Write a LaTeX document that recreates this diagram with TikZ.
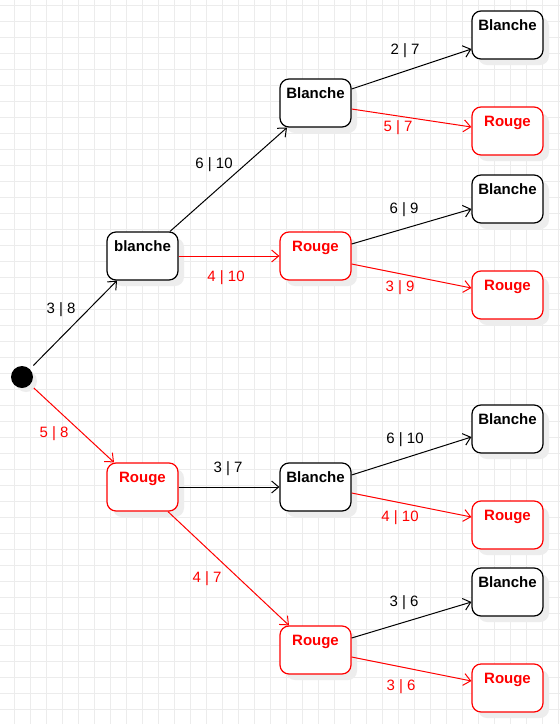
\documentclass[tikz,border=0pt]{standalone}
\usepackage{fontspec}
\setmainfont{Liberation Sans}
\usetikzlibrary{arrows.meta,calc}
\definecolor{gridc}{HTML}{ECECEC}
\definecolor{rd}{HTML}{FF0000}
\tikzset{
  stbox/.style={draw=#1, line width=1.2pt, rounded corners=9pt, fill=white,
    minimum width=71pt, minimum height=48pt, inner sep=0pt},
  shad/.style={fill=black!7, rounded corners=9pt, draw=none},
  conn/.style={line width=1pt, -{Straight Barb[length=7pt,width=12pt,line width=1pt]}},
  elbl/.style={font=\fontsize{15}{17}\selectfont, inner sep=0pt, yshift=-2pt},
  ttl/.style={font=\bfseries\fontsize{15}{17}\selectfont, anchor=base, inner sep=0pt},
}
\newcommand{\stnode}[5]{% name, cx, cy, color, text
  \fill[shad] (#2-35.5+6,#3-24+6) rectangle (#2+35.5+6,#3+24+6);
  \node[stbox=#4] (#1) at (#2,#3) {};
  \node[ttl, text=#4] (#1t) at (#2,#3-5) {#5};
}
\begin{document}
\begin{tikzpicture}[x=1pt,y=-1pt]
\useasboundingbox (0,0) rectangle (560,724);
\fill[white] (0,0) rectangle (560,724);
% grid
\foreach \gx in {14,30,...,560} \draw[gridc, line width=0.8pt] (\gx,0) -- (\gx,724);
\foreach \gy in {5,21,...,724} \draw[gridc, line width=0.8pt] (0,\gy) -- (560,\gy);
% initial state
\fill[black!7] (26,381) circle (11);
\node[circle, fill=black, minimum size=22pt, inner sep=0pt] (c) at (22,377) {};
% states
\stnode{b0}{142.5}{256}{black}{blanche}
\stnode{r0}{142.5}{487}{rd}{Rouge}
\stnode{b1}{315.5}{103}{black}{Blanche}
\stnode{r1}{315.5}{256}{rd}{Rouge}
\stnode{b2}{315.5}{487}{black}{Blanche}
\stnode{r2}{315.5}{650}{rd}{Rouge}
\stnode{bb1}{507.5}{35}{black}{Blanche}
\stnode{br1}{507.5}{131}{rd}{Rouge}
\stnode{rb1}{507.5}{199}{black}{Blanche}
\stnode{rr1}{507.5}{295}{rd}{Rouge}
\stnode{bb2}{507.5}{429}{black}{Blanche}
\stnode{br2}{507.5}{525}{rd}{Rouge}
\stnode{rb2}{507.5}{592}{black}{Blanche}
\stnode{rr2}{507.5}{688}{rd}{Rouge}
% connectors
\draw[conn, shorten <=5pt] (c) -- ($(b0.south)+(-25.5,0)$);
\draw[conn, rd, shorten <=5pt] (c) -- ($(r0.north)+(-28.5,0)$);
\draw[conn] ($(b0.north)+(27.5,0)$) -- ($(b1.south)+(-28.5,0)$);
\draw[conn, rd] (b0.east) -- (r1.west);
\draw[conn] ($(b1.east)+(0,-14)$) -- ($(bb1.west)+(0,14)$);
\draw[conn, rd] ($(b1.east)+(0,6)$) -- ($(br1.west)+(0,-4)$);
\draw[conn] ($(r1.east)+(0,-12)$) -- ($(rb1.west)+(0,10)$);
\draw[conn, rd] ($(r1.east)+(0,8)$) -- ($(rr1.west)+(0,-7)$);
\draw[conn] (r0.east) -- (b2.west);
\draw[conn, rd] ($(r0.south)+(25.5,0)$) -- ($(r2.north)+(-26.5,0)$);
\draw[conn] ($(b2.east)+(0,-12)$) -- ($(bb2.west)+(0,8)$);
\draw[conn, rd] ($(b2.east)+(0,6)$) -- ($(br2.west)+(0,-8)$);
\draw[conn] ($(r2.east)+(0,-12)$) -- ($(rb2.west)+(0,10)$);
\draw[conn, rd] ($(r2.east)+(0,7)$) -- ($(rr2.west)+(0,-7)$);
% labels
\node[elbl] (l1) at (61,308) {3 | 8};
\node[elbl, text=rd] (l2) at (54,432) {5 | 8};
\node[elbl] (l3) at (214,163) {6 | 10};
\node[elbl, text=rd] (l4) at (226,276) {4 | 10};
\node[elbl] (l5) at (405,49) {2 | 7};
\node[elbl, text=rd] (l6) at (398,126) {5 | 7};
\node[elbl] (l7) at (404,208) {6 | 9};
\node[elbl, text=rd] (l8) at (400,286) {3 | 9};
\node[elbl] (l9) at (228,467) {3 | 7};
\node[elbl, text=rd] (l10) at (207,577) {4 | 7};
\node[elbl] (l11) at (405,438) {6 | 10};
\node[elbl, text=rd] (l12) at (400,516) {4 | 10};
\node[elbl] (l13) at (404,601) {3 | 6};
\node[elbl, text=rd] (l14) at (401,685) {3 | 6};
\end{tikzpicture}
\end{document}
